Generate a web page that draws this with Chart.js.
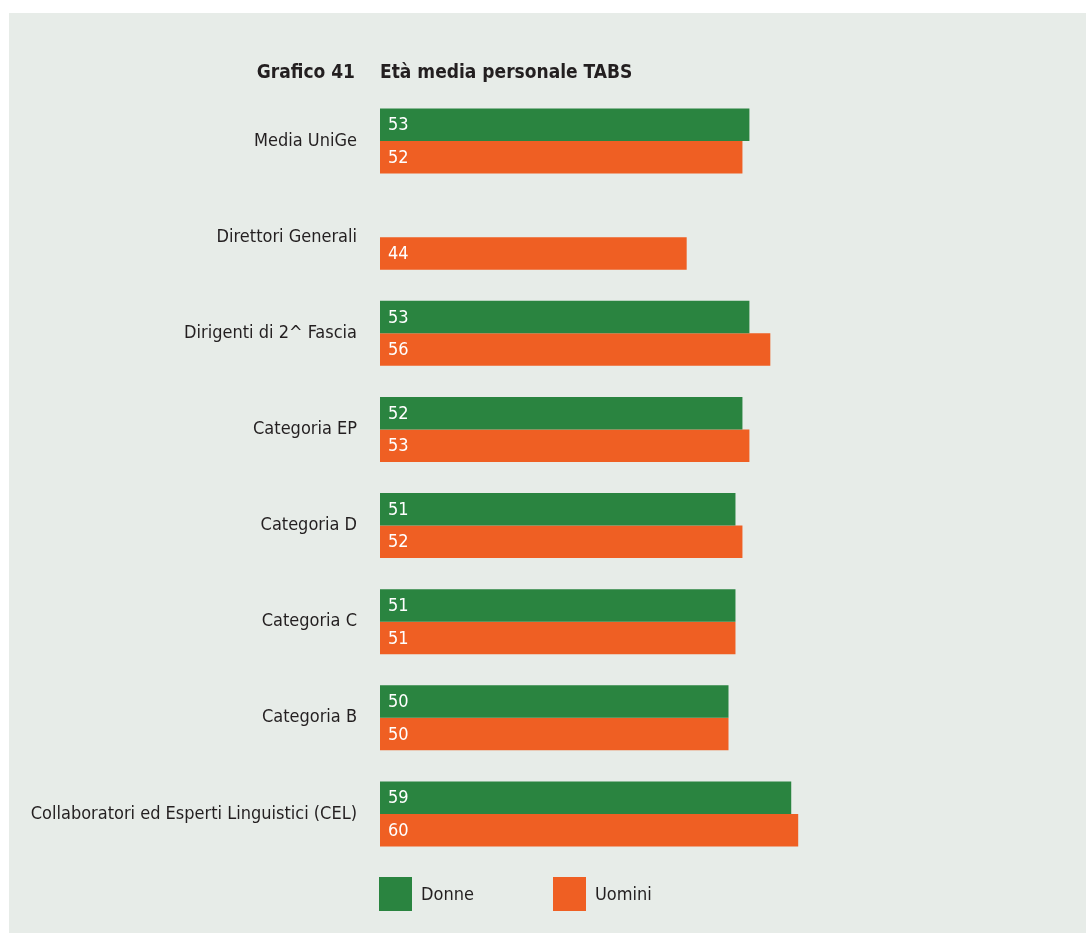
<!DOCTYPE html>
<html>
<head>
<meta charset="utf-8">
<script src="https://cdn.jsdelivr.net/npm/chart.js@4.4.1/dist/chart.umd.min.js"></script>
<style>
  html, body { margin: 0; padding: 0; background: #ffffff; }
  #panel {
    position: absolute; left: 9px; top: 13px;
    width: 1077px; height: 920px;
    background: #e7ece8;
  }
  #chart { display: block; }
</style>
</head>
<body>
<div id="panel"><canvas id="chart" width="1077" height="920"></canvas></div>
<script>
const categories = [
    'Media UniGe',
    'Direttori Generali',
    'Dirigenti di 2^ Fascia',
    'Categoria EP',
    'Categoria D',
    'Categoria C',
    'Categoria B',
    'Collaboratori ed Esperti Linguistici (CEL)'
];
const donne = [53, null, 53, 52, 51, 51, 50, 59];
const uomini = [52, 44, 56, 53, 52, 51, 50, 60];
const seriesNames = ['Donne', 'Uomini'];
const titleNumber = 'Grafico 41';
const titleText = 'Età media personale TABS';

const GREEN = '#2a8440';
const ORANGE = '#ef5f23';
const TEXT = '#231f20';
const FONT = '"DejaVu Sans Condensed", "Liberation Sans Narrow", sans-serif';

// white numbers inside the bars, near the base
const valueLabels = {
    id: 'valueLabels',
    afterDatasetsDraw: function(chart) {
        const ctx = chart.ctx;
        ctx.save();
        ctx.fillStyle = '#ffffff';
        ctx.font = '18px ' + FONT;
        ctx.textAlign = 'left';
        ctx.textBaseline = 'middle';
        chart.data.datasets.forEach((ds, i) => {
            chart.getDatasetMeta(i).data.forEach((bar, j) => {
                if (ds.data[j] == null) return;
                ctx.fillText(String(ds.data[j]), bar.base + 8, bar.y + 1);
            });
        });
        ctx.restore();
    }
};

// title split in two, around the axis line, and legend under the bars
const frame = {
    id: 'frame',
    afterDraw: function(chart) {
        const ctx = chart.ctx;
        const left = chart.chartArea.left;
        ctx.save();
        ctx.fillStyle = TEXT;
        ctx.font = 'bold 19px ' + FONT;
        ctx.textBaseline = 'middle';
        ctx.textAlign = 'right';
        ctx.fillText(titleNumber, left - 25, 60);
        ctx.textAlign = 'left';
        ctx.fillText(titleText, left, 60);

        const colors = [GREEN, ORANGE];
        const y = 864;
        ctx.font = '18px ' + FONT;
        ctx.textBaseline = 'middle';
        let x = left - 1;
        seriesNames.forEach((name, i) => {
            ctx.fillStyle = colors[i];
            ctx.fillRect(x, y, 33, 34);
            ctx.fillStyle = TEXT;
            ctx.fillText(name, x + 42, y + 18);
            x += 174;
        });
        ctx.restore();
    }
};

new Chart(document.getElementById('chart'), {
    type: 'bar',
    data: {
        labels: categories,
        datasets: [
            { label: seriesNames[0], data: donne, backgroundColor: GREEN },
            { label: seriesNames[1], data: uomini, backgroundColor: ORANGE }
        ]
    },
    options: {
        indexAxis: 'y',
        responsive: false,
        animation: false,
        barPercentage: 1,
        categoryPercentage: 0.676,
        layout: { padding: { top: 80, bottom: 71, left: 0, right: 9 } },
        plugins: {
            legend: { display: false },
            tooltip: { enabled: false }
        },
        scales: {
            x: {
                display: false,
                min: 0,
                max: 100
            },
            y: {
                grid: { display: false, drawTicks: false },
                border: { display: false },
                ticks: {
                    color: TEXT,
                    font: { family: FONT, size: 18 },
                    padding: 23,
                    crossAlign: 'near'
                },
                afterFit: function(scale) { scale.width = 371; }
            }
        }
    },
    plugins: [valueLabels, frame]
});
</script>
</body>
</html>
